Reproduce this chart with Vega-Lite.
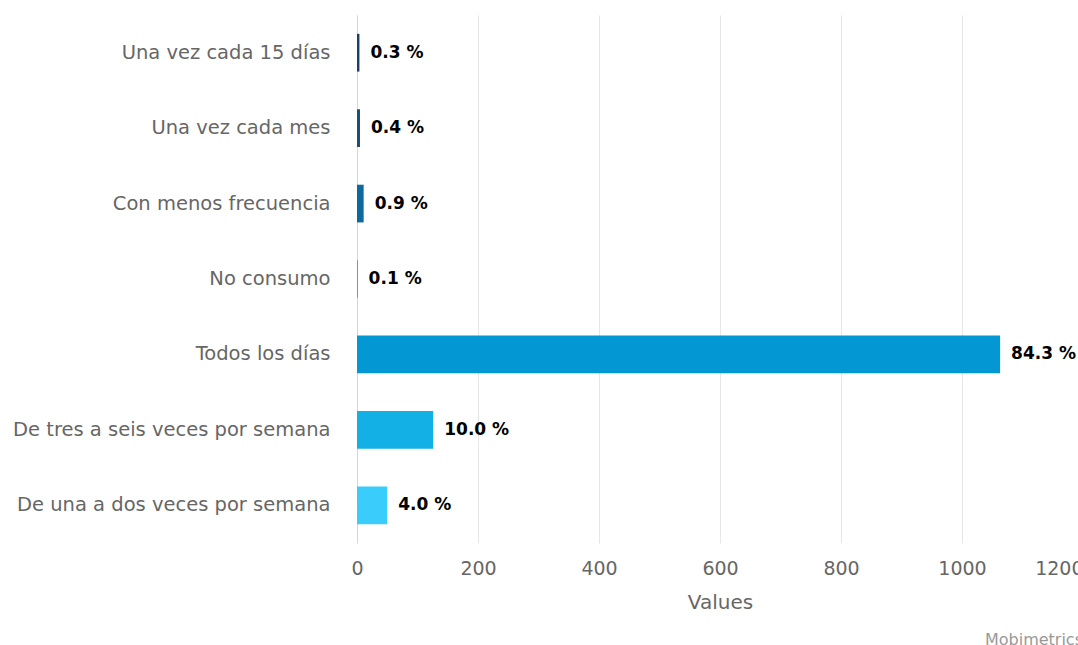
{
  "$schema": "https://vega.github.io/schema/vega-lite/v6.json",
  "autosize": "none",
  "padding": {"left": 357, "top": 15, "right": 0, "bottom": 102},
  "width": 726,
  "height": 528,
  "background": "white",
  "config": {"view": {"stroke": null}, "font": "DejaVu Sans"},
  "title": {
    "text": "Mobimetrics",
    "orient": "bottom",
    "anchor": "end",
    "frame": "group",
    "fontSize": 16,
    "fontWeight": "normal",
    "color": "#999999",
    "font": "DejaVu Sans",
    "offset": 20
  },
  "data": {
    "values": [
      {"category": "Una vez cada 15 días", "value": 4, "label": "0.3 %"},
      {"category": "Una vez cada mes", "value": 5, "label": "0.4 %"},
      {"category": "Con menos frecuencia", "value": 11, "label": "0.9 %"},
      {"category": "No consumo", "value": 1, "label": "0.1 %"},
      {"category": "Todos los días", "value": 1063, "label": "84.3 %"},
      {"category": "De tres a seis veces por semana", "value": 126, "label": "10.0 %"},
      {"category": "De una a dos veces por semana", "value": 50, "label": "4.0 %"}
    ]
  },
  "encoding": {
    "y": {
      "field": "category",
      "type": "nominal",
      "sort": null,
      "scale": {"paddingInner": 0.5, "paddingOuter": 0.25},
      "axis": {
        "title": null,
        "ticks": false,
        "domain": true,
        "domainColor": "#ccd6eb",
        "domainWidth": 1,
        "labelFontSize": 19.5,
        "labelColor": "#666666",
        "labelPadding": 27,
        "labelLimit": 400,
        "grid": false
      }
    },
    "x": {
      "field": "value",
      "type": "quantitative",
      "scale": {"domain": [0, 1200], "nice": false},
      "axis": {
        "title": "Values",
        "titleFontSize": 20,
        "titleFontWeight": "normal",
        "titleColor": "#666666",
        "titlePadding": 14,
        "values": [0, 200, 400, 600, 800, 1000, 1200],
        "format": "d",
        "labelFlush": false,
        "labelAlign": {"condition": {"test": "datum.value == 1200", "value": "right"}, "value": "center"},
        "ticks": false,
        "domain": false,
        "grid": true,
        "gridColor": "#e6e6e6",
        "labelFontSize": 19,
        "labelColor": "#666666",
        "labelPadding": 16
      }
    }
  },
  "layer": [
    {
      "mark": {"type": "bar"},
      "encoding": {
        "color": {
          "field": "category",
          "type": "nominal",
          "legend": null,
          "scale": {
            "domain": ["Una vez cada 15 días", "Una vez cada mes", "Con menos frecuencia", "No consumo", "Todos los días", "De tres a seis veces por semana", "De una a dos veces por semana"],
            "range": ["#1c3f66", "#1a4f78", "#0e6a9e", "#0a80bb", "#0398d3", "#13b0e6", "#3acdfb"]
          }
        }
      }
    },
    {
      "mark": {"type": "text", "align": "left", "baseline": "middle", "dx": 11, "fontSize": 17, "fontWeight": "bold", "color": "#000000"},
      "encoding": {"text": {"field": "label", "type": "nominal"}}
    }
  ]
}
